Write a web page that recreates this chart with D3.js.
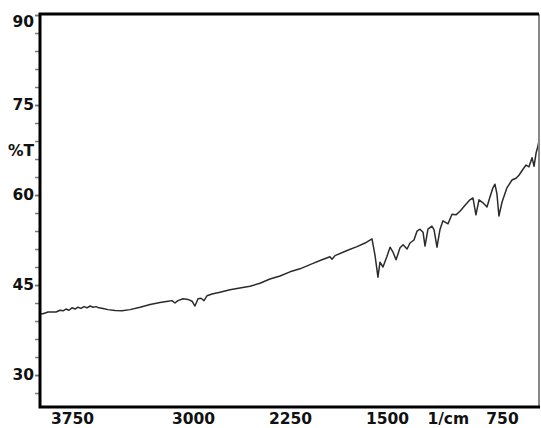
<!DOCTYPE html>
<html>
<head>
<meta charset="utf-8">
<script src="https://cdn.jsdelivr.net/npm/d3@7"></script>
<style>
  body { margin: 0; background: #fff; }
  svg { display: block; }
  .lbl text { font-family: "DejaVu Sans", sans-serif; font-weight: bold; font-size: 15.5px; fill: #111; }
</style>
</head>
<body>
<div id="chart"></div>
<script>
// 1. Data
const wavenumber = [
  3950, 3931, 3900, 3850, 3825, 3806, 3788, 3769, 3750, 3731, 3713, 3694, 3676, 3657,
  3638, 3620, 3601, 3583, 3558, 3527, 3483, 3440, 3390, 3328, 3266, 3204, 3155, 3130,
  3112, 3093, 3062, 3031, 3006, 2985, 2961, 2938, 2915, 2892, 2853, 2791, 2714, 2637,
  2559, 2482, 2405, 2327, 2250, 2173, 2072, 2003, 1941, 1925, 1902, 1809, 1732, 1670,
  1616, 1593, 1570, 1554, 1531, 1500, 1480, 1461, 1441, 1415, 1395, 1369, 1350, 1324,
  1304, 1285, 1265, 1252, 1233, 1207, 1193, 1174, 1154, 1135, 1102, 1076, 1050, 1024,
  991, 959, 939, 920, 900, 874, 848, 828, 809, 796, 783, 770, 750, 718, 685, 659, 640,
  614, 594, 575, 555, 542, 529, 516, 510
];
const transmittance = [
  40.2, 40.2, 40.5, 40.5, 40.8, 40.7, 41.0, 40.8, 41.2, 41.0, 41.3, 41.1, 41.4, 41.2,
  41.5, 41.3, 41.4, 41.2, 41.1, 40.9, 40.75, 40.7, 40.9, 41.3, 41.75, 42.1, 42.3, 42.4,
  42.0, 42.4, 42.7, 42.6, 42.3, 41.5, 42.7, 42.8, 42.4, 43.2, 43.5, 43.8, 44.2, 44.5,
  44.8, 45.3, 46.0, 46.5, 47.2, 47.7, 48.6, 49.2, 49.7, 49.3, 49.9, 50.75, 51.4, 52.0,
  52.7, 50.0, 46.3, 48.8, 48.0, 49.8, 51.3, 50.5, 49.2, 51.2, 51.7, 51.0, 52.0, 52.5,
  54.0, 54.3, 53.8, 51.5, 54.3, 54.8, 54.2, 51.3, 54.3, 55.7, 55.2, 56.8, 56.7, 57.3,
  58.3, 59.2, 59.5, 56.7, 59.2, 58.7, 58.0, 59.7, 61.2, 61.8, 60.2, 56.5, 58.8, 61.2,
  62.5, 62.8, 63.3, 64.3, 65.0, 64.7, 66.2, 64.8, 67.0, 68.2, 69.2
];
const dataset = wavenumber.map((w, i) => ({ w, t: transmittance[i] }));

const xTicks = [3750, 3000, 2250, 1500, 750];
const yTicks = [30, 45, 60, 75, 90];
const yMinorTicks = d3.range(27, 91, 3);
const xUnit = "1/cm";
const yUnit = "%T";

// 2. Dimensions
const dims = {
  width: 541,
  height: 428,
  margin: { top: 14, right: 2, bottom: 21, left: 40 },
};
dims.containerWidth = dims.width - dims.margin.left - dims.margin.right;
dims.containerHeight = dims.height - dims.margin.top - dims.margin.bottom;

// 3. Container
const svg = d3.select("#chart")
  .append("svg")
  .attr("width", dims.width)
  .attr("height", dims.height)
  .style("background", "#fff");

const container = svg.append("g")
  .attr("transform", `translate(${dims.margin.left},${dims.margin.top})`);

// 4. Scales (the printed wavenumber grid is not evenly spaced, so piecewise)
const xScale = d3.scaleLinear()
  .domain([3950, 3750, 3000, 2250, 1500, 750, 510])
  .range([0, 32, 153, 250, 347, 462, dims.containerWidth]);

const yScale = d3.scaleLinear()
  .domain([24.67, 90.17])
  .range([dims.containerHeight, 0]);

// 5. Draw
const lineGenerator = d3.line()
  .x(d => xScale(d.w))
  .y(d => yScale(d.t));

container.append("path")
  .datum(dataset)
  .attr("d", lineGenerator)
  .attr("fill", "none")
  .attr("stroke", "#2b2b2b")
  .attr("stroke-width", 1.5)
  .attr("stroke-linejoin", "round");

// 6. Axes
const yMinor = container.append("g")
  .call(d3.axisLeft(yScale).tickValues(yMinorTicks).tickSize(5).tickFormat(""));
yMinor.select(".domain").remove();
yMinor.selectAll("line").attr("stroke", "#777").attr("stroke-width", 1.5);

const yAxis = container.append("g")
  .attr("class", "lbl")
  .call(d3.axisLeft(yScale).tickValues(yTicks).tickSize(5).tickPadding(1));
yAxis.select(".domain").remove();
yAxis.selectAll("line").attr("stroke", "#777").attr("stroke-width", 1.5);
yAxis.selectAll("text").attr("font-size", null).attr("font-family", null);
yAxis.selectAll(".tick").filter(d => d === 90).select("text").attr("dy", "0.77em");

yAxis.append("text")
  .attr("x", -6)
  .attr("y", yScale(67.3))
  .attr("dy", "0.32em")
  .attr("text-anchor", "end")
  .text(yUnit);

const xAxis = container.append("g")
  .attr("class", "lbl")
  .attr("transform", `translate(0,${dims.containerHeight})`)
  .call(d3.axisBottom(xScale).tickValues(xTicks).tickSize(0).tickPadding(6)
    .tickFormat(d3.format("d")));
xAxis.select(".domain").remove();
xAxis.selectAll("text").attr("font-size", null).attr("font-family", null);

xAxis.append("text")
  .attr("x", xScale(1100))
  .attr("y", 6)
  .attr("dy", "0.71em")
  .attr("text-anchor", "middle")
  .text(xUnit);

// Frame
container.append("line")
  .attr("x1", dims.containerWidth).attr("x2", dims.containerWidth)
  .attr("y1", 0).attr("y2", dims.containerHeight)
  .attr("stroke", "#888").attr("stroke-width", 2);
container.append("path")
  .attr("d", `M${dims.containerWidth},0H0V${dims.containerHeight}H${dims.containerWidth + 1}`)
  .attr("fill", "none")
  .attr("stroke", "#000")
  .attr("stroke-width", 3);
</script>
</body>
</html>
